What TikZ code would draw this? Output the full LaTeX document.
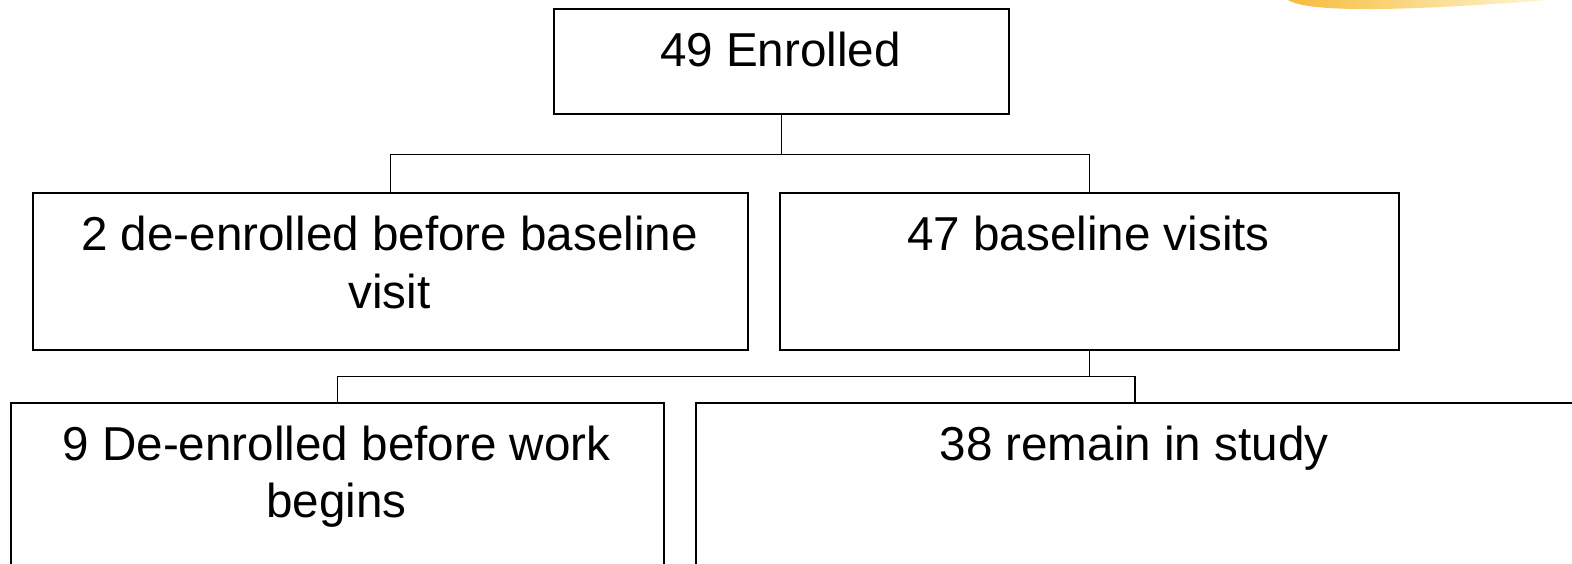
\documentclass[tikz,border=0pt]{standalone}
\usepackage{fontspec}
\setmainfont{Liberation Sans}
\begin{document}
\begin{tikzpicture}[x=1pt,y=-1pt,
  flowbox/.style={draw=black,line width=1.6pt,anchor=north west,inner sep=0pt,fill=white},
  lbl/.style={anchor=base,inner sep=0pt,font=\fontsize{47.6}{57}\selectfont},
  conn/.style={draw=black,line width=1.6pt}]
\useasboundingbox (0,0) rectangle (1572,564);
\clip (0,0) rectangle (1572,564);
% decorative slide fragment, top right
\shade[left color={rgb,255:red,247;green,188;blue,58},right color={rgb,255:red,255;green,246;blue,215}]
  (1288,0) .. controls (1310,14) and (1420,10) .. (1548,0) -- cycle;
% boxes
\node[flowbox,minimum width=455pt,minimum height=105pt] (top) at (553,8) {};
\node[flowbox,minimum width=715pt,minimum height=157pt] (midL) at (32,192) {};
\node[flowbox,minimum width=619pt,minimum height=157pt] (midR) at (779,192) {};
\node[flowbox,minimum width=653pt,minimum height=200pt] (botL) at (10,402) {};
\node[flowbox,minimum width=878pt,minimum height=200pt] (botR) at (695,402) {};
% texts
\node[lbl] (t1) at (780.5,67) {49 Enrolled};
\node[lbl] (t2a) at (389.5,251) {2 de-enrolled before baseline};
\node[lbl] (t2b) at (389.5,308) {visit};
\node[lbl] (t3) at (1088.5,251) {47 baseline visits};
\node[lbl] (t4a) at (336.5,460) {9 De-enrolled before work};
\node[lbl] (t4b) at (336.5,517) {begins};
\node[lbl] (t5) at (1134,460) {38 remain in study};
% connectors
\draw[conn] (top.south) -- ++(0,40) -| (midL.north);
\draw[conn] (top.south) -- ++(0,40) -| (midR.north);
\draw[conn] (midR.south) -- ++(0,26) -| (botL.north);
\draw[conn] (midR.south) -- ++(0,26) -| (botR.north);
\end{tikzpicture}
\end{document}
